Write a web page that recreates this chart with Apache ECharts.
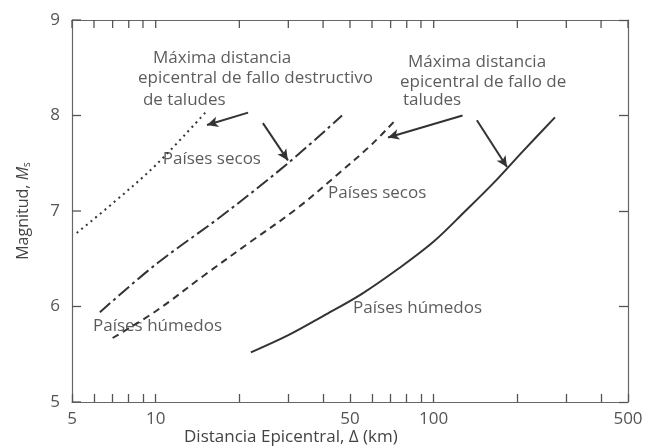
<!DOCTYPE html>
<html><head><meta charset="utf-8">
<script src="https://cdn.jsdelivr.net/npm/echarts@6/dist/echarts.min.js"></script>
<style>html,body{margin:0;padding:0;background:#fff}#c{width:649px;height:448px}</style>
</head><body><div id="c"></div>
<script>
const xLabelValues=[5,10,50,100,500];
const xTickValues=[5,6,7,8,9,10,20,30,40,50,60,70,80,90,100,200,300,400,500];
const yTickValues=[5,6,7,8,9];
const dottedX=[5.2,7,10,15.3];
const dottedY=[6.77,7.08,7.48,8.05];
const dashDotX=[6.3,10,17.3,29.9,46.8];
const dashDotY=[5.94,6.44,6.95,7.5,8.0];
const dashedX=[7,10,15,22,32,45,60,73.8];
const dashedY=[5.67,5.95,6.33,6.68,7.02,7.38,7.7,7.97];
const solidX=[22,30,40,55,75,100,130,165,210,273];
const solidY=[5.52,5.7,5.9,6.13,6.4,6.68,7.0,7.3,7.63,7.98];
const noteText=['Máxima distancia','epicentral de fallo destructivo','de taludes','Máxima distancia','epicentral de fallo de','taludes','Países secos','Países secos','Países húmedos','Países húmedos'];
const noteX=[9.78,8.64,9.0,80.8,75.7,77.5,10.6,41.7,5.95,51.3];
const noteY=[8.60,8.39,8.16,8.56,8.35,8.16,7.54,7.19,5.79,5.98];
const arrowFromX=[21.5,24.3,127,143];
const arrowFromY=[8.03,7.92,8.0,7.95];
const arrowToX=[15.3,29.9,68.5,183.5];
const arrowToY=[7.9,7.53,7.77,7.46];

const FONT='Open Sans';
const zip=(a,b)=>a.map((v,i)=>[v,b[i]]);
const lineCol='#333';
function curve(x,y,type){return {type:'line',data:zip(x,y),smooth:0.35,symbol:'none',
  lineStyle:{color:lineCol,width:2,type:type},silent:true};}
const ax={show:true,lineStyle:{color:'#666',width:1.2}};
const tickStyle={color:'#555',width:1.3};
// inner ticks for top and left edges, positioned through the axes' scales
const topTicks=xTickValues.map(v=>[v,9,0]);
const leftTicks=yTickValues.map(v=>[5,v,1]);
const chart=echarts.init(document.getElementById('c'));
chart.setOption({
  animation:false,
  backgroundColor:'#fff',
  grid:{left:72,right:21,top:20,bottom:46},
  xAxis:[{type:'log',logBase:10,min:5,max:500,position:'bottom',
      axisLine:ax,splitLine:{show:false},
      axisTick:{show:true,inside:true,length:8,customValues:xTickValues,lineStyle:tickStyle},
      axisLabel:{customValues:xLabelValues,formatter:v=>String(Math.round(v)),fontFamily:FONT,fontSize:17,color:'#555',margin:9},
      minorTick:{show:false}},
    {type:'log',logBase:10,min:5,max:500,position:'top',
      axisLine:ax,splitLine:{show:false},axisTick:{show:false},axisLabel:{show:false}}],
  yAxis:[{type:'value',min:5,max:9,interval:1,position:'left',
      axisLine:ax,splitLine:{show:false},
      axisTick:{show:false},
      axisLabel:{fontFamily:FONT,fontSize:17,color:'#555',margin:12},
      name:'Magnitud, {i|M}{s|s}',nameLocation:'middle',nameGap:40,nameRotate:90,
      nameTextStyle:{fontFamily:FONT,fontSize:16,color:'#444',
        rich:{i:{fontFamily:FONT,fontSize:16,fontStyle:'italic',color:'#444'},s:{fontFamily:FONT,fontSize:10,color:'#444',verticalAlign:'bottom',padding:[7,0,0,0]}}}},
    {type:'value',min:5,max:9,interval:1,position:'right',
      axisLine:ax,splitLine:{show:false},
      axisTick:{show:true,inside:true,length:9,lineStyle:tickStyle},
      axisLabel:{show:false}}],
  graphic:[{type:'text',left:184,top:429,style:{text:'Distancia Epicentral, Δ (km)',fontFamily:FONT,fontSize:17,fill:'#444'}}],
  series:[
    curve(dottedX,dottedY,[2,4]),
    curve(dashDotX,dashDotY,[14,4,3,4]),
    curve(dashedX,dashedY,[7,5]),
    curve(solidX,solidY,'solid'),
    {type:'custom',silent:true,clip:false,data:topTicks.concat(leftTicks),
     encode:{x:0,y:1},
     renderItem:(params,api)=>{
       const p=api.coord([api.value(0),api.value(1)]);
       const isLeft=api.value(2)===1;
       return {type:'line',shape:isLeft?{x1:p[0],y1:p[1],x2:p[0]+9,y2:p[1]}:{x1:p[0],y1:p[1],x2:p[0],y2:p[1]+8},
         style:{stroke:'#555',lineWidth:1.3}};
     }},
    {type:'scatter',symbolSize:0,silent:true,
     data:noteText.map((t,i)=>[noteX[i],noteY[i],t]),
     label:{show:true,position:'right',distance:0,formatter:p=>p.data[2],fontFamily:FONT,fontSize:17,color:'#333'},
     markLine:{silent:true,symbol:['none','arrow'],symbolSize:[8,11],label:{show:false},
       lineStyle:{color:lineCol,width:2,type:'solid'},
       data:arrowFromX.map((v,i)=>[{coord:[v,arrowFromY[i]]},{coord:[arrowToX[i],arrowToY[i]]}])}}
  ]
});
</script></body></html>
